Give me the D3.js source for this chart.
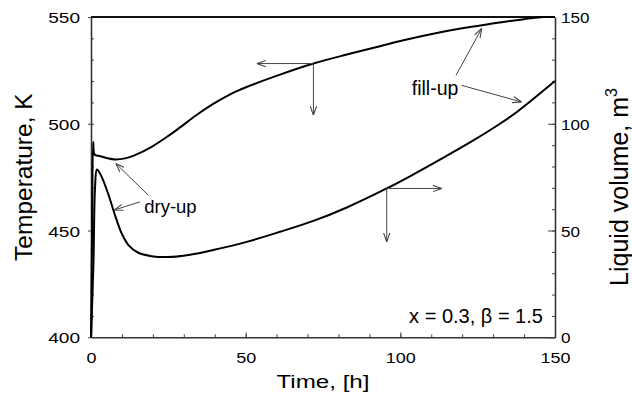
<!DOCTYPE html>
<html>
<head>
<meta charset="utf-8">
<script src="https://cdn.jsdelivr.net/npm/d3@7"></script>
<style>
  body { margin: 0; background: #fff; }
  text { font-family: "Liberation Sans", Arial, sans-serif; fill: #000; }
</style>
</head>
<body>
<div id="chart"></div>
<script>
// temperature curve (left axis)
const tempTime = [0, 0.35, 0.7, 1.0, 1.4, 3, 5, 7.8, 11, 14.2, 19.6, 25, 28.8, 34, 39.5, 45, 50.3, 61.1, 71.9, 82.7, 93.4, 101, 111.8, 122.5, 133.3, 140, 146.3, 150];
const tempK    = [400, 450, 491.5, 486, 485.3, 484.8, 484, 483.3, 483.8, 485.3, 489.2, 494.3, 498.3, 504, 509.3, 513.8, 517.2, 523.0, 528.2, 532.4, 536.3, 539.1, 542.5, 545.3, 547.7, 549, 550, 550];

// liquid volume curve (right axis)
const volTime = [0, 0.8, 1.3, 1.9, 2.6, 3.5, 5.6, 7.8, 9.9, 12.1, 15.3, 19.6, 25, 32, 39.5, 50.3, 61.1, 71.9, 82.7, 95.6, 103.1, 112.8, 123.6, 132.2, 138.1, 150];
const volM3   = [0, 35, 70, 78.6, 77.5, 75, 67, 57, 48.7, 43.2, 39.6, 38, 37.6, 38.7, 40.9, 44.7, 49.4, 54.5, 60.8, 69.7, 75.4, 83.2, 92.2, 100.0, 106.0, 120];

const xTicks = [0, 50, 100, 150];
const tempTicks = [400, 450, 500, 550];
const volTicks = [0, 50, 100, 150];

const W = 632, H = 406;
const pLeft = 91, pRight = 555, pTop = 17, pBottom = 337.3;

const x = d3.scaleLinear().domain([0, 150]).range([pLeft, pRight]);
const yT = d3.scaleLinear().domain([400, 550]).range([pBottom, pTop]);
const yV = d3.scaleLinear().domain([0, 150]).range([pBottom, pTop]);

const svg = d3.select("#chart").append("svg")
  .attr("width", W)
  .attr("height", H);

svg.append("defs").append("marker")
  .attr("id", "head")
  .attr("viewBox", "0 0 10 10")
  .attr("refX", 10)
  .attr("refY", 5)
  .attr("markerWidth", 9)
  .attr("markerHeight", 9)
  .attr("markerUnits", "userSpaceOnUse")
  .attr("orient", "auto")
  .append("path")
    .attr("d", "M0,1.5 L10,5 L0,8.5")
    .attr("fill", "none")
    .attr("stroke", "#444")
    .attr("stroke-width", 1.2);

// stretch text horizontally to the measured width
function fit(sel, w) {
  sel.attr("textLength", w).attr("lengthAdjust", "spacingAndGlyphs");
}

// minor ticks
svg.append("g")
  .attr("transform", "translate(" + pLeft + ",0)")
  .call(d3.axisLeft(yT).tickValues(d3.range(410, 550, 10)).tickSize(-3).tickFormat(""))
  .call(g => g.select(".domain").remove());
svg.append("g")
  .attr("transform", "translate(" + pRight + ",0)")
  .call(d3.axisRight(yV).tickValues(d3.range(10, 150, 10)).tickSize(-3).tickFormat(""))
  .call(g => g.select(".domain").remove());
svg.append("g")
  .attr("transform", "translate(0," + pBottom + ")")
  .call(d3.axisBottom(x).tickValues(d3.range(10, 150, 10)).tickSize(-3).tickFormat(""))
  .call(g => g.select(".domain").remove());

// major axes
const xAxis = svg.append("g")
  .attr("transform", "translate(0," + pBottom + ")")
  .call(d3.axisBottom(x).tickValues(xTicks).tickSize(-5).tickSizeOuter(0).tickPadding(0));
xAxis.selectAll("text")
  .attr("font-size", 15.5)
  .attr("y", 26)
  .attr("dy", 0)
  .each(function(d) { fit(d3.select(this), String(d).length * 10); });

const yAxisL = svg.append("g")
  .attr("transform", "translate(" + pLeft + ",0)")
  .call(d3.axisLeft(yT).tickValues(tempTicks).tickSize(3).tickSizeOuter(0));
yAxisL.selectAll("text")
  .attr("font-size", 15.5)
  .attr("x", -11)
  .attr("dy", "0.36em")
  .each(function(d) { fit(d3.select(this), String(d).length * 10.6); });

const yAxisR = svg.append("g")
  .attr("transform", "translate(" + pRight + ",0)")
  .call(d3.axisRight(yV).tickValues(volTicks).tickSize(-7).tickSizeOuter(0));
yAxisR.selectAll("text")
  .attr("font-size", 15.5)
  .attr("x", 6)
  .attr("dy", "0.36em")
  .each(function(d) { fit(d3.select(this), String(d).length * 9.5); });

svg.selectAll(".domain").attr("stroke", "#333").attr("stroke-width", 1.6);
svg.selectAll(".tick line").attr("stroke", "#444");

// top border
svg.append("line")
  .attr("x1", pLeft).attr("x2", pRight)
  .attr("y1", pTop).attr("y2", pTop)
  .attr("stroke", "#111").attr("stroke-width", 1.8);

// curves
const tempData = tempTime.map((t, i) => [t, tempK[i]]);
const volData = volTime.map((t, i) => [t, volM3[i]]);

svg.append("path")
  .datum(tempData)
  .attr("fill", "none")
  .attr("stroke", "#000")
  .attr("stroke-width", 2)
  .attr("d", d3.line().x(d => x(d[0])).y(d => yT(d[1])).curve(d3.curveCatmullRom.alpha(0.5)));

svg.append("path")
  .datum(volData)
  .attr("fill", "none")
  .attr("stroke", "#000")
  .attr("stroke-width", 2)
  .attr("d", d3.line().x(d => x(d[0])).y(d => yV(d[1])).curve(d3.curveCatmullRom.alpha(0.5)));

// annotation arrows, in time / temperature units
const arrows = [
  [71.9, 528.2, 53.6, 528.2],
  [71.9, 528.2, 71.9, 504.0],
  [95.6, 469.7, 113.4, 469.7],
  [95.6, 469.7, 95.6, 444.7],
  [15.8, 463.4, 7.5, 459.6],
  [18.5, 466.6, 8.0, 481.4],
  [118, 522.7, 126.3, 544.6],
  [119.8, 518.0, 139.2, 510.2]
];
svg.selectAll(".arrow")
  .data(arrows)
  .enter()
  .append("line")
    .attr("class", "arrow")
    .attr("x1", d => x(d[0]))
    .attr("y1", d => yT(d[1]))
    .attr("x2", d => x(d[2]))
    .attr("y2", d => yT(d[3]))
    .attr("stroke", "#444")
    .attr("stroke-width", 1)
    .attr("marker-end", "url(#head)");

svg.append("text")
  .attr("x", x(17.2))
  .attr("y", yT(458))
  .attr("font-size", 18.5)
  .text("dry-up");

svg.append("text")
  .attr("x", x(103.7))
  .attr("y", yT(513.7))
  .attr("font-size", 19.5)
  .text("fill-up");

svg.append("text")
  .attr("x", x(146.1))
  .attr("y", yT(406.7))
  .attr("font-size", 20)
  .attr("text-anchor", "end")
  .text("x = 0.3, \u03b2 = 1.5");

// axis titles
const xTitle = svg.append("text")
  .attr("x", (pLeft + pRight) / 2)
  .attr("y", 387.5)
  .attr("font-size", 18)
  .attr("text-anchor", "middle")
  .text("Time, [h]");
fit(xTitle, 93);

svg.append("text")
  .attr("transform", "translate(32," + ((pTop + pBottom) / 2) + ") rotate(-90)")
  .attr("font-size", 24.5)
  .attr("text-anchor", "middle")
  .text("Temperature, K");

const vTitle = svg.append("text")
  .attr("transform", "translate(628,187) rotate(-90)")
  .attr("font-size", 25)
  .attr("text-anchor", "middle");
vTitle.append("tspan").text("Liquid volume, m");
vTitle.append("tspan").attr("font-size", 16).attr("dy", -11).text("3");
</script>
</body>
</html>
